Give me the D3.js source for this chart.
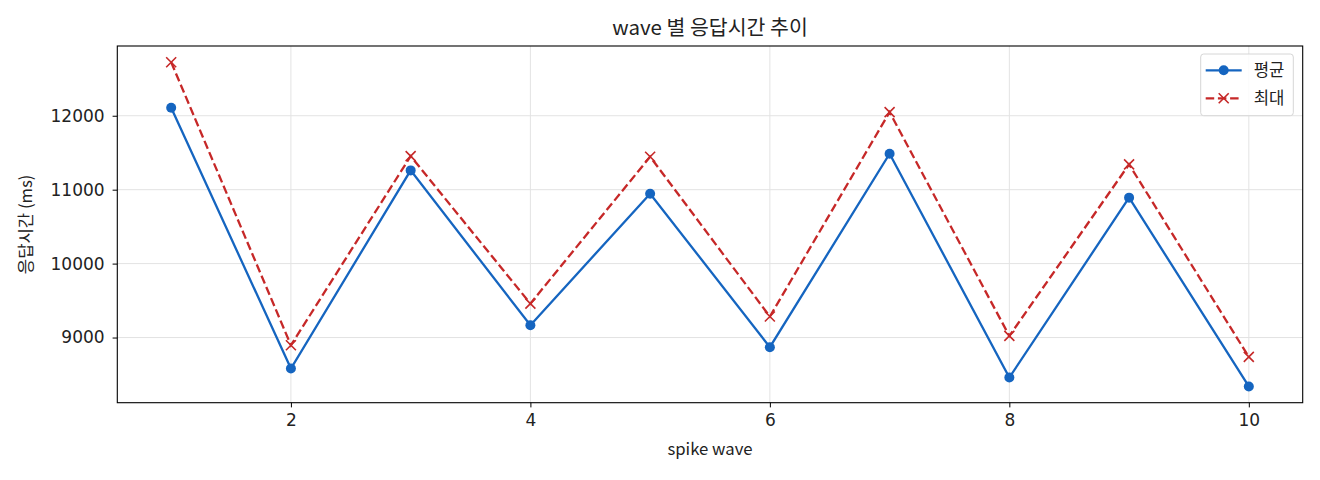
<!DOCTYPE html>
<html>
<head>
<meta charset="utf-8">
<script src="https://cdn.jsdelivr.net/npm/d3@7"></script>
<style>
  html, body { margin: 0; padding: 0; background: #fff; }
  svg text { font-family: "Noto Sans CJK KR", "Noto Sans", sans-serif; fill: #222; }
  svg .tick text { font-family: "DejaVu Sans", sans-serif; }
</style>
</head>
<body>
<svg id="chart" width="1320" height="480"></svg>
<script>
// wave index on x, response time (ms) on y
const waves = [1, 2, 3, 4, 5, 6, 7, 8, 9, 10];
const avgMs = [12108, 8581, 11261, 9166, 10946, 8869, 11486, 8459, 10892, 8338];
const maxMs = [12724, 8896, 11454, 9459, 11446, 9284, 12049, 9022, 11342, 8738];
const xTicks = [2, 4, 6, 8, 10];
const yTicks = [9000, 10000, 11000, 12000];
const seriesNames = ["평균", "최대"];

const BLUE = "#1565c0", RED = "#c62828";
const svg = d3.select("#chart");
const m = { left: 117.3, right: 1302.7, top: 46, bottom: 402.7 };

// matplotlib-ish autoscale: 5% padding each side
const xPad = (d3.max(waves) - d3.min(waves)) * 0.05;
const x = d3.scaleLinear()
  .domain([d3.min(waves) - xPad, d3.max(waves) + xPad])
  .range([m.left, m.right]);
const allY = avgMs.concat(maxMs);
const yPad = (d3.max(allY) - d3.min(allY)) * 0.05;
const y = d3.scaleLinear()
  .domain([d3.min(allY) - yPad, d3.max(allY) + yPad])
  .range([m.bottom, m.top]);

// grid
const grid = svg.append("g").attr("stroke", "#e3e3e3").attr("stroke-width", 1);
xTicks.forEach(t => grid.append("line")
  .attr("x1", x(t)).attr("x2", x(t)).attr("y1", m.top).attr("y2", m.bottom));
yTicks.forEach(t => grid.append("line")
  .attr("x1", m.left).attr("x2", m.right).attr("y1", y(t)).attr("y2", y(t)));

// axes
const xAxis = svg.append("g")
  .attr("transform", `translate(0,${m.bottom})`)
  .call(d3.axisBottom(x).tickValues(xTicks).tickSize(4.7).tickPadding(7));
const yAxis = svg.append("g")
  .attr("transform", `translate(${m.left},0)`)
  .call(d3.axisLeft(y).tickValues(yTicks).tickFormat(d3.format("d")).tickSize(4.7).tickPadding(8));
[xAxis, yAxis].forEach(a => {
  a.select(".domain").remove();
  a.selectAll("line").attr("stroke", "#000").attr("stroke-width", 1);
  a.selectAll("text").attr("font-size", 17).style("fill", "#222");
});

// frame
svg.append("rect")
  .attr("x", m.left).attr("y", m.top)
  .attr("width", m.right - m.left).attr("height", m.bottom - m.top)
  .attr("fill", "none").attr("stroke", "#000").attr("stroke-width", 1.1);

const line = d3.line().x((d, i) => x(waves[i])).y(d => y(d));

// 평균
svg.append("path").datum(avgMs)
  .attr("d", line).attr("fill", "none")
  .attr("stroke", BLUE).attr("stroke-width", 2.3);
svg.append("g").selectAll("circle").data(avgMs).join("circle")
  .attr("cx", (d, i) => x(waves[i])).attr("cy", d => y(d))
  .attr("r", 5).attr("fill", BLUE);

// 최대
svg.append("path").datum(maxMs)
  .attr("d", line).attr("fill", "none")
  .attr("stroke", RED).attr("stroke-width", 2.3)
  .attr("stroke-dasharray", "8.5,3.7");
function cross(g, cx, cy, s) {
  g.append("path")
    .attr("d", `M${cx - s},${cy - s}L${cx + s},${cy + s}M${cx - s},${cy + s}L${cx + s},${cy - s}`)
    .attr("stroke", RED).attr("stroke-width", 1.6).attr("fill", "none");
}
const crosses = svg.append("g");
maxMs.forEach((d, i) => cross(crosses, x(waves[i]), y(d), 5));

// title + labels
svg.append("text").attr("x", (m.left + m.right) / 2).attr("y", 35)
  .attr("text-anchor", "middle").attr("font-size", 20.5).text("wave 별 응답시간 추이");
svg.append("text").attr("x", (m.left + m.right) / 2).attr("y", 455)
  .attr("text-anchor", "middle").attr("font-size", 16.7).text("spike wave");
svg.append("text")
  .attr("transform", `translate(32,${(m.top + m.bottom) / 2}) rotate(-90)`)
  .attr("text-anchor", "middle").attr("font-size", 16.7).text("응답시간 (ms)");

// legend
const lg = svg.append("g").attr("transform", "translate(1200.7,54)");
lg.append("rect").attr("width", 92.6).attr("height", 61.7).attr("rx", 3)
  .attr("fill", "#fff").attr("fill-opacity", 0.85)
  .attr("stroke", "#d6d6d6").attr("stroke-width", 1);
const rows = [16.3, 44.3];
lg.append("line").attr("x1", 5).attr("x2", 41).attr("y1", rows[0]).attr("y2", rows[0])
  .attr("stroke", BLUE).attr("stroke-width", 2.3);
lg.append("circle").attr("cx", 23).attr("cy", rows[0]).attr("r", 5).attr("fill", BLUE);
lg.append("line").attr("x1", 5).attr("x2", 41).attr("y1", rows[1]).attr("y2", rows[1])
  .attr("stroke", RED).attr("stroke-width", 2.3).attr("stroke-dasharray", "8.5,3.7");
cross(lg, 23, rows[1], 5);
seriesNames.forEach((n, i) => lg.append("text")
  .attr("x", 53).attr("y", rows[i]).attr("dy", "0.35em")
  .attr("font-size", 16.7).text(n));
</script>
</body>
</html>
